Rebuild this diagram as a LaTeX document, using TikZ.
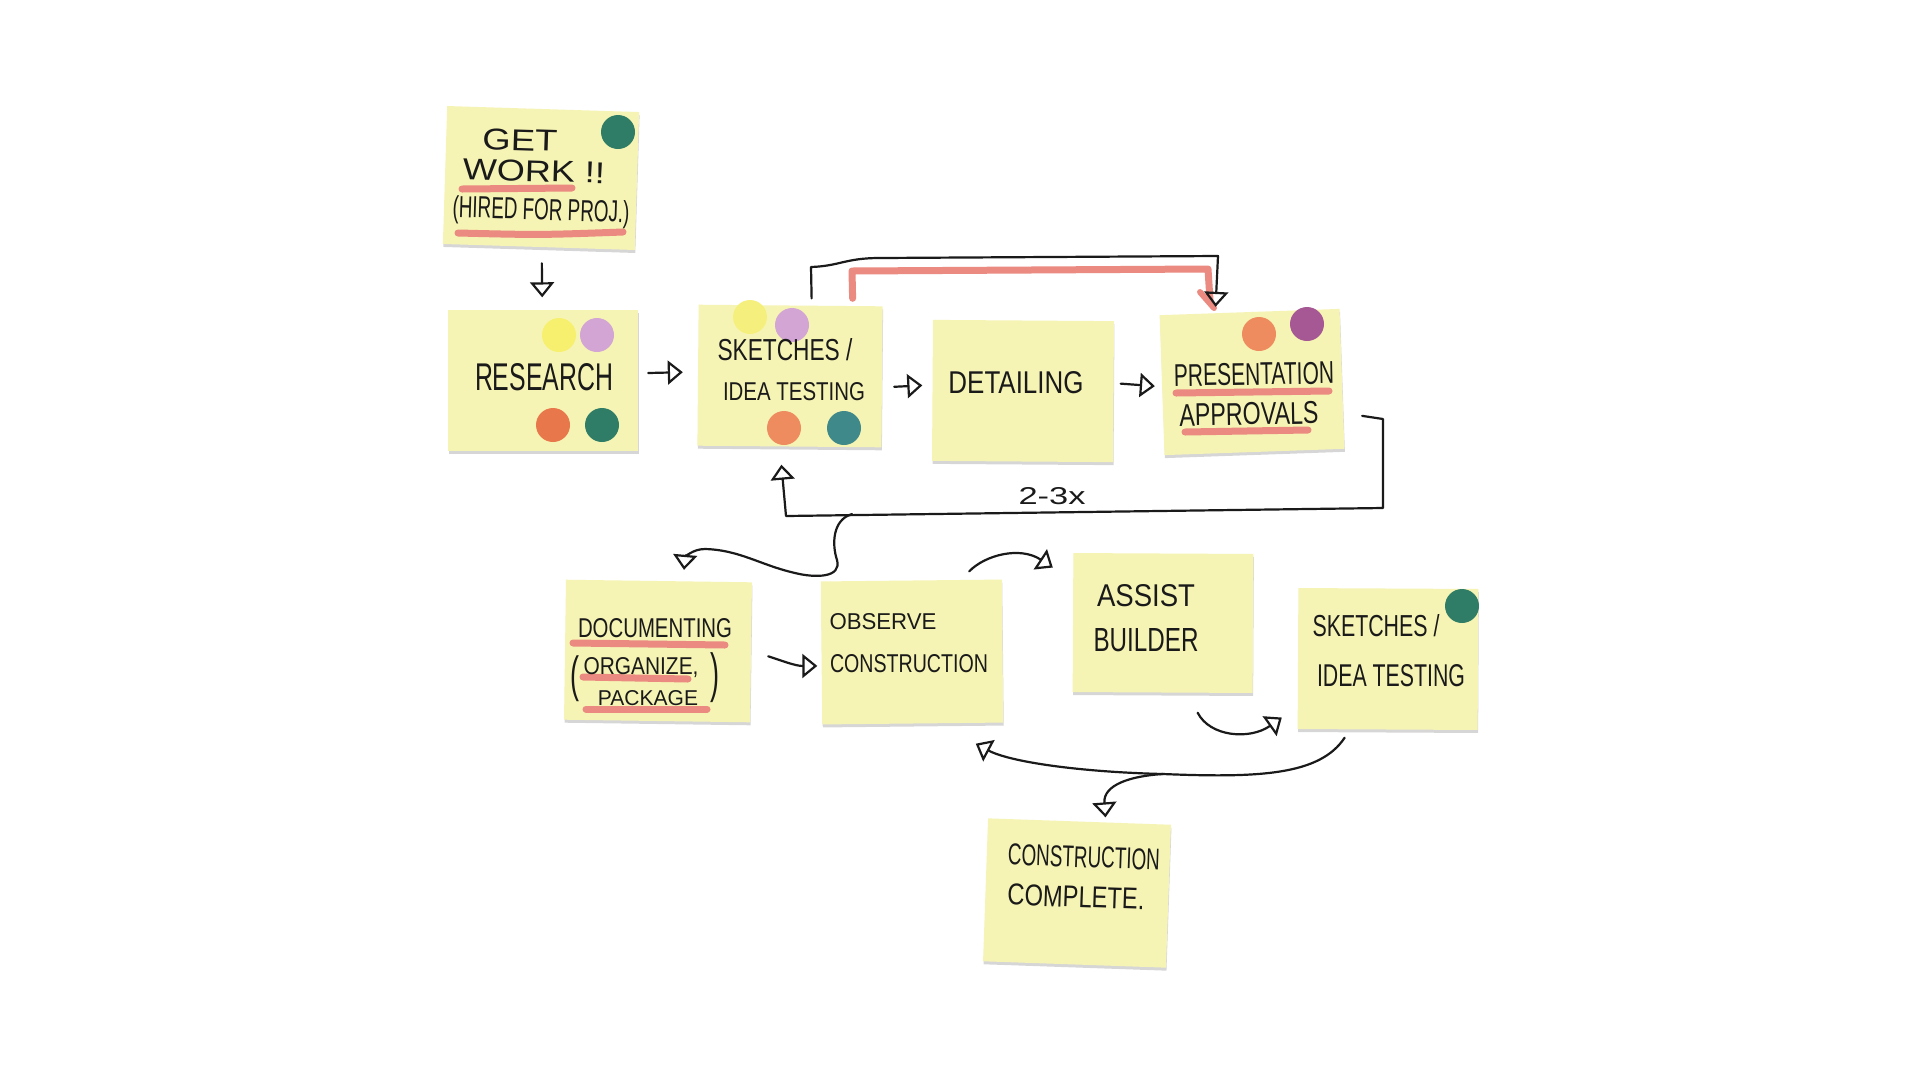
\documentclass[tikz,border=0pt]{standalone}
\usepackage{fontspec}
\usepackage{graphicx}
\newfontfamily\handfont{Liberation Sans}
\usetikzlibrary{arrows.meta,calc,shadows}

\definecolor{notefill}{HTML}{F6F4B4}
\definecolor{marker}{HTML}{EA8A80}
\definecolor{dotgreen}{HTML}{2F7D66}
\definecolor{dotyellow}{HTML}{F6F06E}
\definecolor{dotpaleyellow}{HTML}{F5F07E}
\definecolor{dotlilac}{HTML}{D2A5D5}
\definecolor{dotorange}{HTML}{E8784C}
\definecolor{dotsoftorange}{HTML}{EE8C60}
\definecolor{dotteal}{HTML}{3F898B}
\definecolor{dotplum}{HTML}{A65895}
\definecolor{ink}{HTML}{1A1A1A}

% handwritten line squeezed into a fixed box: width, cap height, text
\newcommand{\hw}[3]{\resizebox{#1pt}{#2pt}{\handfont #3}}
% same, but the height counts the depth too (for tall brackets)
\newcommand{\hwt}[3]{\resizebox*{#1pt}{#2pt}{\handfont #3}}

\tikzset{
  note/.style={draw=none, fill=notefill, inner sep=0pt,
    drop shadow={shadow xshift=0.5pt, shadow yshift=-3pt, fill=black!45, opacity=0.35}},
  txt/.style={inner sep=0pt, text=ink},
  sticker/.style={circle, inner sep=0pt, minimum size=34pt, draw=none},
  flow/.style={draw=ink, line width=2.2pt, line cap=round, line join=round,
    -{Triangle[open, length=15pt, width=24pt, line width=2.2pt]}},
  hilite/.style={draw=marker, line width=7pt, line cap=round, line join=round},
}

\begin{document}
\begin{tikzpicture}[x=1pt,y=-1pt]
\useasboundingbox (0,0) rectangle (1920,1080);
\fill[white] (0,0) rectangle (1920,1080);

% ---- sticky notes ----
\node[note, minimum width=192pt, minimum height=138pt, rotate=-1.8] (getwork) at (541,178) {};
\node[note, minimum width=190pt, minimum height=141pt] (research) at (543,380) {};
\node[note, minimum width=184pt, minimum height=141pt, rotate=-0.5] (sketches) at (790,376) {};
\node[note, minimum width=181pt, minimum height=141pt, rotate=-0.4] (detailing) at (1023,391) {};
\node[note, minimum width=180pt, minimum height=140pt, rotate=2] (presentation) at (1252,382) {};
\node[note, minimum width=186pt, minimum height=140pt, rotate=-0.8] (documenting) at (658,651) {};
\node[note, minimum width=181pt, minimum height=143pt, rotate=0.6] (observe) at (912,652) {};
\node[note, minimum width=180pt, minimum height=139pt, rotate=-0.3] (assist) at (1163,623) {};
\node[note, minimum width=180pt, minimum height=141pt, rotate=-0.3] (sketchesb) at (1388,659) {};
\node[note, minimum width=183pt, minimum height=143pt, rotate=-2] (complete) at (1077,893) {};

% ---- round stickers ----
\node[sticker, fill=dotgreen] (gw-g) at (618,132) {};
\node[sticker, fill=dotyellow] (rs-y) at (559,335) {};
\node[sticker, fill=dotlilac] (rs-l) at (597,335) {};
\node[sticker, fill=dotorange] (rs-o) at (553,425) {};
\node[sticker, fill=dotgreen] (rs-g) at (602,425) {};
\node[sticker, fill=dotpaleyellow] (sk-y) at (750,317) {};
\node[sticker, fill=dotlilac] (sk-l) at (792,325) {};
\node[sticker, fill=dotsoftorange] (sk-o) at (784,428) {};
\node[sticker, fill=dotteal] (sk-t) at (844,428) {};
\node[sticker, fill=dotsoftorange] (pr-o) at (1259,334) {};
\node[sticker, fill=dotplum] (pr-p) at (1307,324) {};
\node[sticker, fill=dotgreen] (sb-g) at (1462,606) {};

% ---- marker underlines ----
\draw[hilite] (462,189) -- (572,188);
\draw[hilite] (458,233) .. controls (540,235) .. (623,232);
\draw[hilite] (1176,393) -- (1329,391);
\draw[hilite] (1185,432) -- (1308,430);
\draw[hilite] (573,643) -- (725,645);
\draw[hilite] (583,677) -- (688,679);
\draw[hilite] (586,709) -- (707,709);

% ---- handwritten labels ----
\node[txt, rotate=-1.8] (t-get) at (520,140) {\hw{75}{21}{GET}};
\node[txt, rotate=-1.8] (t-work) at (534,171) {\hw{142}{21}{WORK !!}};
\node[txt, rotate=-1.8] (t-hired) at (541,212) {\hw{177}{22}{(HIRED FOR PROJ.)}};
\node[txt] (t-research) at (544,377) {\hw{138}{27}{RESEARCH}};
\node[txt] (t-sketches) at (785,350) {\hw{135}{22}{SKETCHES /}};
\node[txt] (t-idea) at (794,392) {\hw{142}{18}{IDEA TESTING}};
\node[txt] (t-detailing) at (1016,383) {\hw{135}{22}{DETAILING}};
\node[txt, rotate=1] (t-presentation) at (1254,374) {\hw{160}{22}{PRESENTATION}};
\node[txt, rotate=1] (t-approvals) at (1249,414) {\hw{139}{22}{APPROVALS}};
\node[txt] (t-times) at (1052,496) {\hw{67}{17}{2-3x}};
\node[txt] (t-documenting) at (655,628) {\hw{154}{19}{DOCUMENTING}};
\node[txt] (t-lpar) at (575,679) {\hwt{9}{46}{(}};
\node[txt] (t-organize) at (641,668) {\hw{115}{17}{ORGANIZE,}};
\node[txt] (t-package) at (648,698) {\hw{100}{15}{PACKAGE}};
\node[txt] (t-rpar) at (715,678) {\hwt{9}{50}{)}};
\node[txt] (t-observe) at (883,622) {\hw{107}{16}{OBSERVE}};
\node[txt] (t-construction) at (909,664) {\hw{158}{18}{CONSTRUCTION}};
\node[txt] (t-assist) at (1146,596) {\hw{98}{22}{ASSIST}};
\node[txt] (t-builder) at (1146,640) {\hw{105}{23}{BUILDER}};
\node[txt] (t-sketchesb) at (1376,626) {\hw{127}{22}{SKETCHES /}};
\node[txt] (t-ideab) at (1391,676) {\hw{148}{22}{IDEA TESTING}};
\node[txt, rotate=-2] (t-constr) at (1084,857) {\hw{152}{21}{CONSTRUCTION}};
\node[txt, rotate=-2] (t-complete) at (1076,897) {\hw{137}{21}{COMPLETE.}};

% ---- connectors ----
\draw[flow, shorten <=16pt, shorten >=12pt] (getwork) -- (research);
\draw[flow] ($(research.east)+(10,-7)$) -- ($(sketches.west)+(-15,-3)$);
\draw[flow] ($(sketches.east)+(12,10)$) -- ($(detailing.west)+(-10,-5)$);
\draw[flow] ($(detailing.east)+(7,-8)$) -- ($(presentation.west)+(-7,1)$);

% marker bracket over the top, drawn under the ink
\draw[hilite] ($(sketches.north)+(62,-7)$) -- (852,271) -- (1208,269) -- (1210,300);
\draw[marker, line width=6pt, line cap=round] (1200,292) -- (1214,308);
% ink bracket: sketches straight to presentation
\draw[flow] ($(sketches.north)+(21,-7)$) -- (811,267) .. controls (840,266) and (845,258) .. (880,258)
  -- (1218,256) -- ($(presentation.north)+(-34,-5)$);

% repeat loop: presentation back to sketches
\coordinate (loopR) at (1383,508);
\coordinate (loopL) at (786,516);
\coordinate (split) at (852,514);
\draw[flow] ($(presentation.east)+(20,37)$) -- (1383,419) -- (loopR) -- (loopL) -- ($(sketches.south)+(-8,18)$);

% from the loop down to documenting
\draw[flow] (split) .. controls (832,520) and (832,545) .. (837,560)
  .. controls (842,578) and (815,578) .. (795,573)
  .. controls (760,565) and (740,550) .. (705,549)
  .. controls (692,549) and (685,558) .. ($(documenting.north)+(25,-11)$);

\draw[flow] ($(documenting.east)+(17,4)$) .. controls (780,660) and (795,666) .. ($(observe.west)+(-4,13)$);
\draw[flow] ($(observe.north)+(58,-9)$) .. controls (985,555) and (1020,546) .. ($(assist.west)+(-20,-55)$);
\draw[flow] ($(assist.south)+(35,20)$) .. controls (1210,737) and (1250,740) .. ($(sketchesb.west)+(-16,59)$);

% back from sketches to observe, with a branch to completion
\coordinate (fork) at (1163,774);
\draw[flow] ($(sketchesb.south)+(-43,8)$) .. controls (1320,775) and (1260,778) .. (fork)
  .. controls (1080,772) and (1010,762) .. ($(observe.south)+(63,20)$);
\draw[flow] (fork) .. controls (1130,776) and (1103,785) .. ($(complete.north)+(26,-4)$);
\end{tikzpicture}
\end{document}
